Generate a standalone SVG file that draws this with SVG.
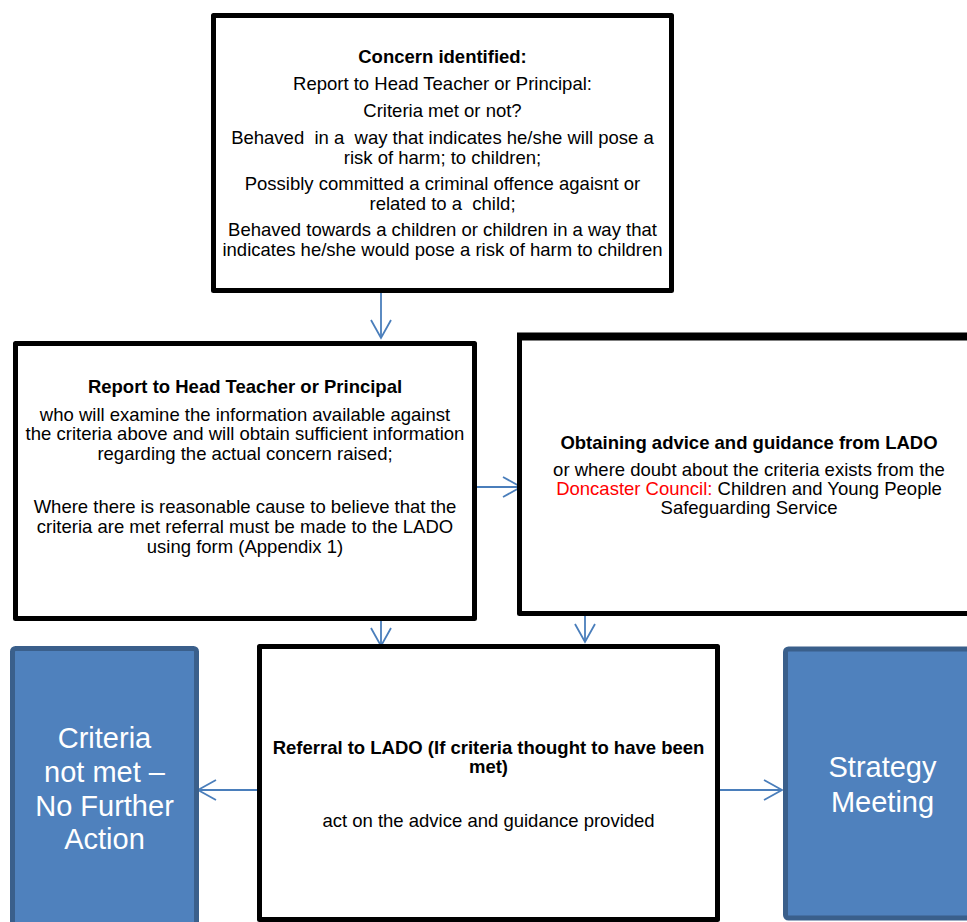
<svg xmlns="http://www.w3.org/2000/svg" width="967" height="922" viewBox="0 0 967 922">
<style>
.box{fill:#fff;stroke:#000;stroke-width:5;stroke-linejoin:round}
.blue{fill:#4F81BD;stroke:#3A5F8B;stroke-width:5;stroke-linejoin:round}
text{font-family:"Liberation Sans",Arial,sans-serif;font-size:18.5px;fill:#000;text-anchor:middle;white-space:pre}
.b{font-weight:bold}
.w{fill:#fff;font-size:29px}
.conn{stroke:#4A7EBB;stroke-width:1.8;fill:none}
</style>
<defs>
<marker id="arr" markerUnits="userSpaceOnUse" viewBox="-20 -12 22 24" refX="0" refY="0" markerWidth="22" markerHeight="24" orient="auto" overflow="visible">
<path d="M-18,-10 L0,0 L-18,10" fill="none" stroke="#4A7EBB" stroke-width="1.8"/>
</marker>
</defs>
<rect width="967" height="922" fill="#fff"/>
<g id="connectors">
<path class="conn" d="M381,293 L381,338" marker-end="url(#arr)"/>
<path class="conn" d="M477,487 L521,487" marker-end="url(#arr)"/>
<path class="conn" d="M381,621 L381,646" marker-end="url(#arr)"/>
<path class="conn" d="M585,616 L585,642" marker-end="url(#arr)"/>
<path class="conn" d="M257,790 L198,790" marker-end="url(#arr)"/>
<path class="conn" d="M720,790 L782,790" marker-end="url(#arr)"/>
</g>
<g id="concern">
<rect class="box" x="213.5" y="15.5" width="458" height="275"/>
<text class="b" x="442.5" y="63">Concern identified:</text>
<text x="442.5" y="90">Report to Head Teacher or Principal:</text>
<text x="442.5" y="117">Criteria met or not?</text>
<text x="442.5" y="144">Behaved  in a  way that indicates he/she will pose a</text>
<text x="442.5" y="164">risk of harm; to children;</text>
<text x="442.5" y="190">Possibly committed a criminal offence agaisnt or</text>
<text x="442.5" y="210">related to a  child;</text>
<text x="442.5" y="236">Behaved towards a children or children in a way that</text>
<text x="442.5" y="256">indicates he/she would pose a risk of harm to children</text>
</g>
<g id="report">
<rect class="box" x="15.5" y="343.5" width="459" height="275"/>
<text class="b" x="245" y="393">Report to Head Teacher or Principal</text>
<text x="245" y="421">who will examine the information available against</text>
<text x="245" y="440">the criteria above and will obtain sufficient information</text>
<text x="245" y="460">regarding the actual concern raised;</text>
<text x="245" y="513">Where there is reasonable cause to believe that the</text>
<text x="245" y="533">criteria are met referral must be made to the LADO</text>
<text x="245" y="553">using form (Appendix 1)</text>
</g>
<g id="advice">
<rect class="box" x="519.5" y="337" width="460" height="276.5"/>
<path d="M517,336.5 L975,336.5" stroke="#000" stroke-width="8"/>
<text class="b" x="749" y="449">Obtaining advice and guidance from LADO</text>
<text x="749" y="476">or where doubt about the criteria exists from the</text>
<text x="749" y="495"><tspan fill="#FF0000">Doncaster Council:</tspan> Children and Young People</text>
<text x="749" y="514">Safeguarding Service</text>
</g>
<g id="notmet">
<rect class="blue" x="12.5" y="648.5" width="184" height="290" rx="3"/>
<text class="w" x="104.5" y="748">Criteria</text>
<text class="w" x="104.5" y="782">not met –</text>
<text class="w" x="104.5" y="816">No Further</text>
<text class="w" x="104.5" y="849">Action</text>
</g>
<g id="referral">
<rect class="box" x="259.5" y="646.5" width="458" height="273"/>
<text class="b" x="488.5" y="754">Referral to LADO (If criteria thought to have been</text>
<text class="b" x="488.5" y="773">met)</text>
<text x="488.5" y="827">act on the advice and guidance provided</text>
</g>
<g id="strategy">
<rect class="blue" x="785.5" y="649" width="195" height="269" rx="3"/>
<text class="w" x="882.5" y="777">Strategy</text>
<text class="w" x="882.5" y="812">Meeting</text>
</g>
</svg>
